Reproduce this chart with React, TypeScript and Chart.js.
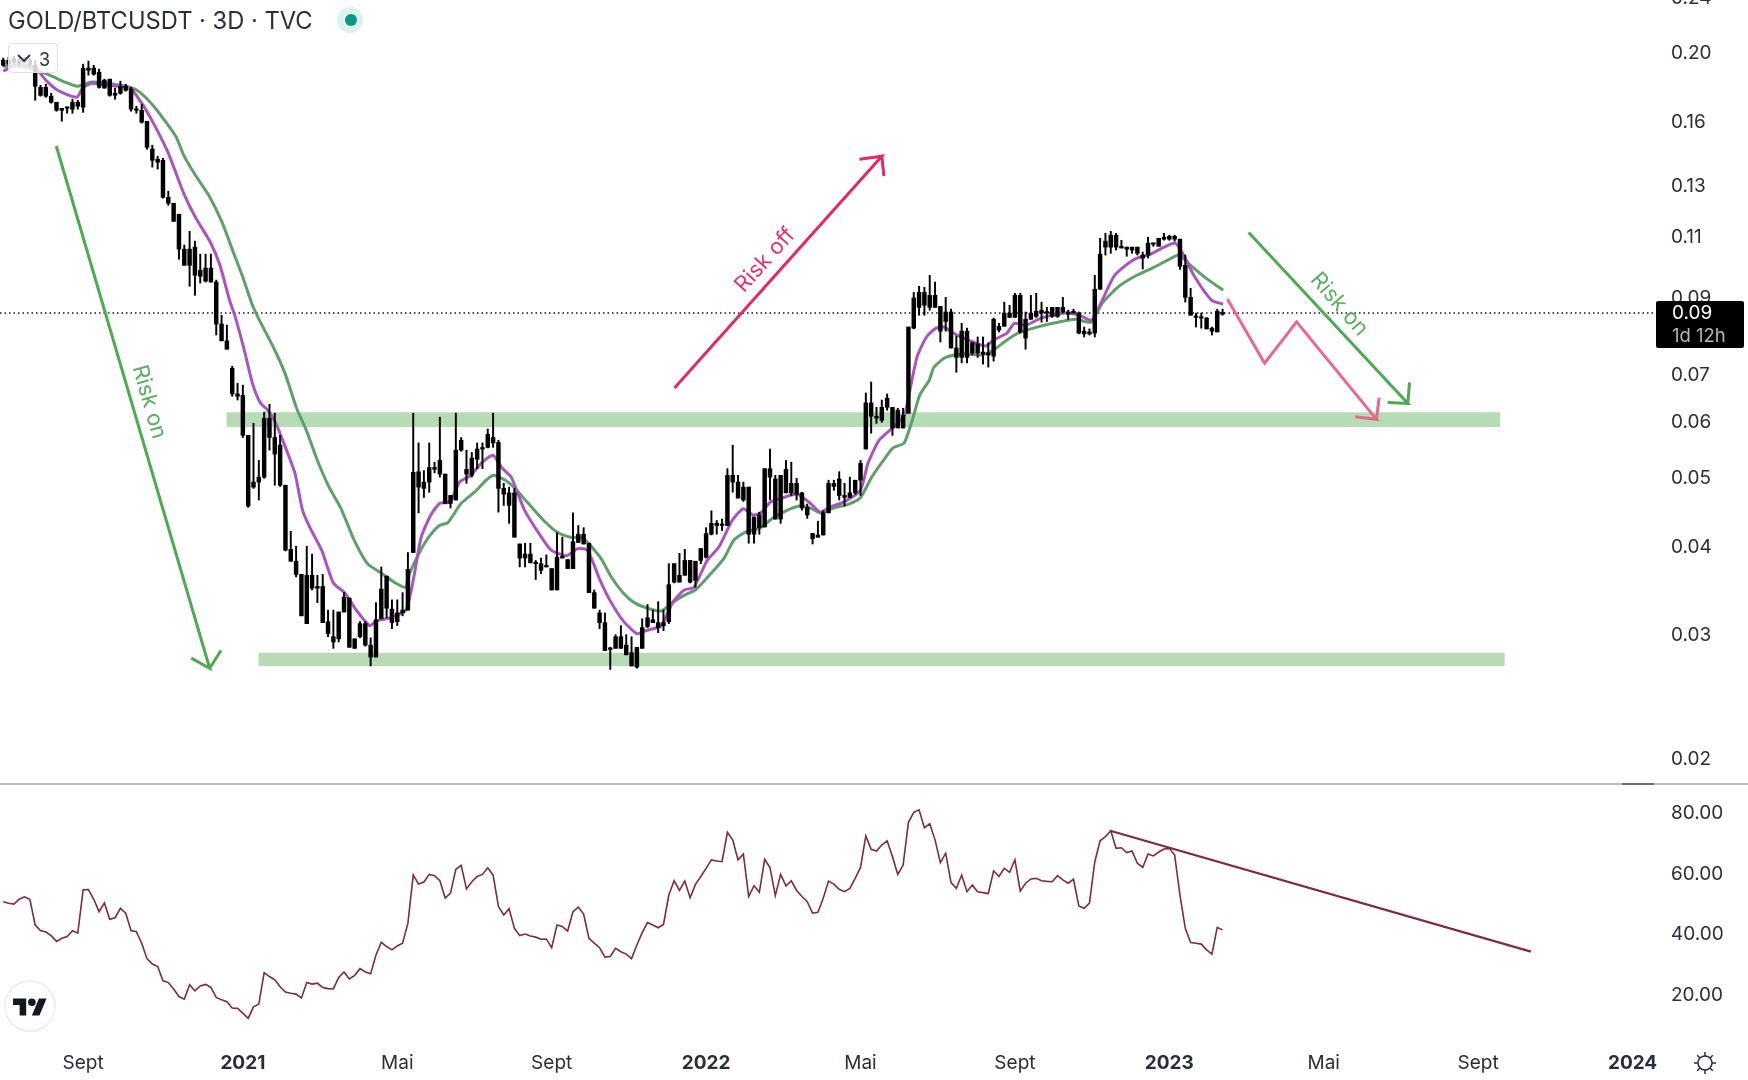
import React, { useEffect, useRef } from "react";
import { Chart, registerables } from "chart.js";

Chart.register(...registerables);

const FONT = "Inter, 'Noto Sans', sans-serif";

// candle values, one entry per 3D bar
const bodyTop = [
  .1949,.1949,.1962,.1949,.1955,.1949,.1917,.1784,.1784,.1733,
  .1699,.1666,.1672,.1699,.1699,.1899,.1899,.1899,.1874,.1826,
  .1832,.1750,.1790,.1790,.1773,.1661,.1655,.1597,.1458,.1411,
  .1406,.1246,.1222,.1179,.1052,.1052,.1059,.0982,.0989,.0989,
  .0945,.0824,.0780,.0713,.0656,.0653,.0573,.0492,.0500,.0606,
  .0606,.0569,.0555,.0487,.0395,.0380,.0364,.0363,.0363,.0350,
  .0350,.0312,.0297,.0322,.0338,.0337,.0295,.0310,.0310,.0289,
  .0314,.0347,.0362,.0325,.0321,.0324,.0370,.0508,.0509,.0492,
  .0516,.0516,.0528,.0505,.0471,.0546,.0564,.0513,.0532,.0548,
  .0550,.0575,.0569,.0560,.0482,.0475,.0475,.0402,.0389,.0389,
  .0378,.0377,.0374,.0371,.0385,.0385,.0382,.0405,.0415,.0415,
  .0403,.0343,.0321,.0311,.0286,.0297,.0297,.0289,.0282,.0287,
  .0306,.0316,.0314,.0311,.0311,.0352,.0377,.0363,.0381,.0381,
  .0380,.0396,.0416,.0430,.0430,.0428,.0503,.0503,.0492,.0484,
  .0484,.0439,.0442,.0514,.0514,.0497,.0503,.0513,.0490,.0490,
  .0475,.0453,.0416,.0414,.0445,.0490,.0490,.0497,.0471,.0475,
  .0495,.0523,.0637,.0637,.0610,.0628,.0647,.0628,.0622,.0612,
  .0816,.0897,.0914,.0914,.0905,.0905,.0873,.0857,.0857,.0762,
  .0805,.0805,.0775,.0772,.0752,.0750,.0837,.0818,.0854,.0854,
  .0905,.0905,.0837,.0854,.0859,.0862,.0857,.0870,.0870,.0870,
  .0857,.0859,.0854,.0805,.0803,.0923,.1035,.1080,.1101,.1101,
  .1062,.1059,.1059,.1059,.1032,.1073,.1073,.1090,.1094,.1097,
  .1097,.1087,.0998,.0899,.0845,.0842,.0840,.0813,.0859,.0854,
];
const bodyBottom = [
  .1917,.1924,.1936,.1930,.1936,.1924,.1790,.1738,.1733,.1699,
  .1655,.1655,.1666,.1661,.1677,.1672,.1886,.1862,.1784,.1779,
  .1738,.1738,.1750,.1767,.1661,.1655,.1592,.1467,.1406,.1397,
  .1246,.1222,.1152,.1052,.0998,.0998,.0966,.0963,.0948,.0945,
  .0824,.0780,.0759,.0656,.0651,.0573,.0455,.0484,.0492,.0500,
  .0569,.0539,.0487,.0394,.0380,.0364,.0318,.0310,.0348,.0348,
  .0311,.0300,.0292,.0295,.0322,.0287,.0286,.0297,.0289,.0278,
  .0278,.0315,.0326,.0311,.0312,.0321,.0324,.0391,.0484,.0482,
  .0492,.0513,.0505,.0459,.0459,.0464,.0546,.0505,.0503,.0530,
  .0548,.0551,.0559,.0482,.0473,.0456,.0411,.0384,.0384,.0378,
  .0377,.0369,.0373,.0346,.0346,.0384,.0371,.0371,.0404,.0402,
  .0343,.0326,.0311,.0284,.0285,.0286,.0286,.0280,.0270,.0269,
  .0286,.0307,.0311,.0306,.0308,.0312,.0355,.0355,.0363,.0355,
  .0357,.0381,.0385,.0415,.0427,.0427,.0427,.0492,.0467,.0464,
  .0415,.0415,.0424,.0425,.0500,.0436,.0436,.0475,.0475,.0473,
  .0452,.0442,.0409,.0411,.0414,.0445,.0485,.0471,.0468,.0468,
  .0475,.0495,.0548,.0610,.0606,.0602,.0628,.0587,.0587,.0587,
  .0616,.0813,.0870,.0876,.0870,.0870,.0805,.0831,.0762,.0739,
  .0739,.0739,.0750,.0750,.0747,.0745,.0742,.0808,.0818,.0842,
  .0842,.0803,.0787,.0837,.0845,.0854,.0854,.0845,.0845,.0857,
  .0851,.0854,.0800,.0798,.0798,.0800,.0923,.1059,.1059,.1059,
  .1056,.1052,.1049,.1038,.1022,.1032,.1069,.1062,.1087,.1087,
  .1087,.0995,.0899,.0848,.0842,.0840,.0811,.0805,.0803,.0851,
];
const wickHigh = [
  .1962,.1968,.1975,.1962,.1968,.1962,.1949,.1796,.1802,.1750,
  .1699,.1666,.1672,.1716,.1710,.1924,.1943,.1917,.1893,.1832,
  .1832,.1779,.1820,.1802,.1784,.1677,.1688,.1597,.1477,.1425,
  .1415,.1271,.1222,.1179,.1066,.1115,.1080,.1035,.1035,.1035,
  .0951,.0848,.0821,.0718,.0679,.0675,.0573,.0596,.0528,.0618,
  .0634,.0616,.0573,.0487,.0419,.0399,.0364,.0399,.0389,.0363,
  .0364,.0324,.0324,.0322,.0343,.0337,.0295,.0312,.0312,.0296,
  .0332,.0373,.0362,.0335,.0335,.0343,.0391,.0616,.0559,.0511,
  .0559,.0525,.0608,.0505,.0471,.0616,.0569,.0546,.0542,.0559,
  .0559,.0585,.0616,.0564,.0490,.0484,.0482,.0402,.0403,.0403,
  .0381,.0384,.0388,.0371,.0417,.0411,.0382,.0445,.0427,.0424,
  .0403,.0346,.0324,.0321,.0287,.0299,.0308,.0299,.0297,.0287,
  .0315,.0330,.0324,.0333,.0324,.0377,.0377,.0390,.0395,.0381,
  .0380,.0396,.0424,.0448,.0434,.0436,.0514,.0555,.0503,.0492,
  .0484,.0439,.0446,.0514,.0548,.0503,.0503,.0528,.0525,.0498,
  .0476,.0458,.0416,.0433,.0448,.0495,.0495,.0509,.0490,.0500,
  .0495,.0528,.0658,.0682,.0628,.0643,.0656,.0628,.0626,.0626,
  .0816,.0914,.0932,.0929,.0966,.0945,.0873,.0899,.0865,.0792,
  .0826,.0813,.0777,.0790,.0790,.0775,.0840,.0826,.0885,.0876,
  .0911,.0911,.0857,.0905,.0911,.0885,.0870,.0870,.0870,.0899,
  .0862,.0865,.0857,.0816,.0811,.0966,.1090,.1108,.1115,.1108,
  .1083,.1059,.1059,.1059,.1042,.1094,.1073,.1090,.1108,.1101,
  .1101,.1087,.1032,.0926,.0854,.0854,.0842,.0816,.0865,.0865,
];
const wickLow = [
  .1911,.1917,.1924,.1917,.1930,.1911,.1710,.1733,.1727,.1694,
  .1650,.1597,.1639,.1639,.1661,.1644,.1856,.1856,.1779,.1779,
  .1733,.1716,.1744,.1761,.1650,.1639,.1587,.1458,.1375,.1366,
  .1242,.1214,.1152,.1018,.0998,.0932,.0905,.0942,.0945,.0945,
  .0795,.0780,.0759,.0651,.0643,.0569,.0453,.0482,.0464,.0498,
  .0546,.0487,.0485,.0393,.0380,.0361,.0318,.0310,.0346,.0332,
  .0311,.0297,.0286,.0292,.0322,.0287,.0286,.0296,.0288,.0270,
  .0278,.0315,.0316,.0305,.0308,.0318,.0324,.0391,.0445,.0468,
  .0476,.0507,.0500,.0459,.0452,.0464,.0544,.0490,.0500,.0514,
  .0514,.0550,.0551,.0446,.0456,.0430,.0411,.0373,.0373,.0378,
  .0358,.0365,.0373,.0346,.0346,.0384,.0371,.0371,.0404,.0402,
  .0343,.0326,.0305,.0284,.0267,.0286,.0286,.0280,.0270,.0268,
  .0286,.0306,.0311,.0301,.0303,.0310,.0354,.0355,.0363,.0354,
  .0349,.0377,.0384,.0414,.0415,.0420,.0427,.0476,.0467,.0462,
  .0403,.0403,.0415,.0425,.0464,.0436,.0430,.0475,.0471,.0464,
  .0449,.0437,.0402,.0411,.0414,.0445,.0479,.0464,.0455,.0468,
  .0473,.0471,.0548,.0577,.0596,.0598,.0622,.0573,.0587,.0587,
  .0616,.0811,.0848,.0848,.0862,.0870,.0777,.0805,.0762,.0704,
  .0726,.0726,.0745,.0739,.0723,.0716,.0730,.0803,.0818,.0842,
  .0842,.0800,.0759,.0837,.0842,.0829,.0831,.0842,.0842,.0854,
  .0837,.0854,.0798,.0790,.0795,.0790,.0923,.1032,.1038,.1049,
  .1056,.1028,.1038,.1032,.0986,.1022,.1062,.1062,.1083,.1083,
  .1080,.0985,.0885,.0848,.0816,.0813,.0811,.0795,.0803,.0848,
];

// moving averages, read at the bends of the line
const emaFastBars = [
  0,2.3,5.9,8,10.2,13.8,14.9,16.6,19.5,23.8,26,28.2,31,33.9,36.1,38.9,40.7,42.5,43.6,45.4,
  46.8,48.3,49.7,51.2,53,54.8,56.2,57.6,59.8,62,64.1,66.3,68.8,70.2,72.7,75.6,76.9,78.5,80.3,82,
  83.9,85.7,87.8,90,92,93.6,95.4,97.9,100.8,102.9,105.8,107.9,109.7,112.1,113.9,116.4,119,120.7,123.6,125.7,
  127.9,129.7,132.2,134.4,136.9,139,140.8,142.3,144.1,146.6,149.1,151.6,153.4,155.2,158.1,161,162.4,164.5,167.1,168.9,
  169.4,171.6,173.4,175.2,176.6,179.1,181.3,184.5,186,188.5,189.9,192.1,194.9,199.3,202.1,204.4,206.4,208.6,210.8,212.9,
  215.1,218,220.1,221.5,223.7,226.9,229.1,
];
const emaFastValues = [
  .1880,.1917,.1905,.1826,.1767,.1727,.1779,.1808,.1796,.1779,.1694,.1587,.1439,.1262,.1167,.1076,.0998,.0891,.0842,.0750,
  .0679,.0637,.0622,.0596,.0551,.0506,.0449,.0424,.0394,.0354,.0343,.0324,.0308,.0313,.0316,.0324,.0354,.0411,.0442,.0459,
  .0461,.0492,.0503,.0525,.0537,.0516,.0500,.0449,.0414,.0394,.0387,.0396,.0394,.0357,.0335,.0313,.0300,.0303,.0308,.0332,
  .0346,.0349,.0381,.0398,.0434,.0451,.0442,.0445,.0461,.0468,.0473,.0459,.0446,.0453,.0462,.0479,.0523,.0564,.0588,.0606,
  .0616,.0739,.0790,.0813,.0816,.0795,.0782,.0767,.0782,.0800,.0826,.0821,.0840,.0854,.0848,.0834,.0891,.0963,.0998,.1022,
  .1032,.1059,.1073,.1038,.0963,.0891,.0879,
];
const emaSlowBars = [
  0,3,5,8.7,11.6,13.8,14.8,16.3,19.5,23.8,25.6,28.1,30.3,32.5,33.9,36.1,38.6,41.1,43.2,45,
  46.8,48.3,50.8,52.9,55.1,56.9,59,61.2,63.4,65.9,68.4,70.9,73.4,75.5,76.3,78.1,79.9,81.9,83.5,86,
  88.5,90.7,92.1,94.3,96.1,98.6,101.5,104,106.5,109,112.1,114.2,116.4,118.5,121,123.6,125.7,128.2,130,132.9,
  135.4,137.2,139.4,142.3,144.4,147.3,149.5,151.6,153.4,155.9,158.8,161,163.1,165.3,167.1,169.2,171,172.1,173.9,174.8,
  177,180.6,183.8,186,188.5,190.6,193.5,197.1,201.4,204.3,206.4,209.3,212.2,215.8,218.7,220.8,223,225.9,229.1,
];
const emaSlowValues = [
  .1911,.1911,.1899,.1856,.1814,.1790,.1796,.1814,.1808,.1784,.1756,.1683,.1602,.1516,.1429,.1339,.1254,.1148,.1042,.0960,
  .0876,.0829,.0762,.0702,.0626,.0583,.0528,.0484,.0452,.0407,.0377,.0366,.0355,.0349,.0365,.0390,.0411,.0427,.0431,.0459,
  .0476,.0495,.0503,.0495,.0482,.0459,.0434,.0418,.0411,.0409,.0385,.0361,.0343,.0332,.0326,.0323,.0332,.0341,.0346,.0365,
  .0384,.0407,.0418,.0424,.0437,.0449,.0455,.0452,.0445,.0452,.0458,.0468,.0500,.0528,.0550,.0559,.0612,.0653,.0686,.0716,
  .0739,.0747,.0745,.0757,.0782,.0800,.0813,.0826,.0837,.0829,.0882,.0929,.0960,.0989,.1015,.1032,.0998,.0957,.0920,
];

// RSI, one value per bar
const rsiValues = [
  50.3,49.8,49.5,51.1,51.9,51.1,42.6,40.8,40.3,39.1,37.2,38.2,38.8,40.7,39.9,54.2,54.3,51.1,47.0,49.9,
  44.5,45.0,48.1,46.5,40.8,40.4,36.6,31.5,29.7,28.9,24.2,23.6,21.5,19.0,18.1,22.9,20.9,22.5,23.0,22.0,
  18.7,17.9,17.3,15.2,15.1,13.5,11.8,15.6,16.5,26.9,25.6,24.5,22.2,20.5,20.1,19.8,18.5,23.6,23.1,23.4,
  22.0,21.6,21.5,25.3,27.1,24.8,26.0,28.2,27.1,26.5,32.7,36.9,35.5,34.4,35.7,36.6,43.2,59.1,56.1,56.8,
  59.3,58.9,57.2,51.5,53.1,61.0,62.3,54.5,56.9,58.6,59.3,61.5,59.1,48.7,45.9,48.0,41.5,39.1,39.6,39.0,
  38.6,37.9,38.0,35.1,42.6,42.1,40.6,47.0,48.5,46.2,38.2,36.6,35.1,32.0,32.2,34.9,33.8,33.0,31.5,36.0,
  40.1,43.4,42.6,41.7,42.8,52.5,57.2,54.0,57.1,51.6,56.0,58.6,61.3,64.1,63.7,63.5,73.2,70.7,64.1,66.0,
  52.0,55.6,53.4,64.3,61.6,52.3,59.3,55.5,57.2,54.0,52.0,50.3,46.5,46.8,51.4,57.1,56.1,54.4,53.6,54.7,
  58.0,61.6,72.0,67.6,67.0,69.0,70.4,65.2,59.3,62.4,76.5,79.8,80.6,74.7,76.0,70.7,63.2,66.3,56.6,54.7,
  59.1,53.6,55.8,53.6,53.3,53.0,60.5,58.6,61.3,60.0,64.1,53.8,56.4,57.8,58.0,57.2,57.0,56.9,58.9,57.5,
  56.4,57.7,48.9,48.1,49.8,63.5,70.4,71.8,73.7,67.9,68.1,66.5,67.0,63.0,61.6,66.0,65.4,66.7,67.7,67.9,
  65.7,52.5,41.5,36.8,36.6,36.3,34.4,33.0,41.8,41.0,
];
const rsiTrendBars = [207.9, 286.9];
const rsiTrendValues = [73.7, 33.8];

// axes
const priceTicks = [0.02, 0.03, 0.04, 0.05, 0.06, 0.07, 0.09, 0.11, 0.13, 0.16, 0.2, 0.24];
const rsiTicks = [20, 40, 60, 80];
const timeTickBars = [15, 45, 74, 103, 132, 161, 190, 219, 248, 277, 306];
const timeTickLabels = ["Sept", "2021", "Mai", "Sept", "2022", "Mai", "Sept", "2023", "Mai", "Sept", "2024"];

// drawings on the chart, in bars and price
const supportZoneBars = [47.9, 282];
const supportZoneTop = [0.0282, 0.0282];
const supportZoneBottom = [0.027, 0.027];
const resistZoneBars = [41.9, 281.1];
const resistZoneTop = [0.0618, 0.0618];
const resistZoneBottom = [0.0589, 0.0589];

const lastPriceBars = [-0.61, 310.4];
const lastPriceValues = [0.0854, 0.0854];

const leftArrowBars = [9.96, 38.77, 35.3, 38.77, 40.9];
const leftArrowValues = [0.1473, 0.0268, 0.0277, 0.0268, 0.0284];
const riskOffBars = [126.06, 165, 160.8, 165, 165.4];
const riskOffValues = [0.0669, 0.1425, 0.1411, 0.1425, 0.1335];
const rightArrowBars = [233.9, 263.8, 260, 263.8, 264.1];
const rightArrowValues = [0.1111, 0.0636, 0.0638, 0.0636, 0.0681];
const zigzagBars = [229.9, 236.9, 242.9, 257.9, 253.9, 257.9, 258.4];
const zigzagValues = [0.0894, 0.0725, 0.083, 0.0604, 0.0609, 0.0604, 0.0648];

const noteTexts = ["Risk on", "Risk off", "Risk on"];
const noteBars = [27.4, 143.1, 250.9];
const noteValues = [0.0639, 0.1015, 0.0879];
const noteAngles = [74, -48, 49];
const noteColors = ["#5cae62", "#e5326f", "#5cae62"];

const toPoints = (xs: number[], ys: number[]) => xs.map((x, i) => ({ x, y: ys[i] }));

function lineSet(xs: number[], ys: number[], color: string, width: number, order: number, extra: any = {}) {
  return {
    type: "line",
    data: toPoints(xs, ys),
    borderColor: color,
    borderWidth: width,
    pointRadius: 0,
    tension: 0,
    order,
    yAxisID: "y",
    ...extra,
  };
}

const notesPlugin = {
  id: "notes",
  afterDatasetsDraw(chart: any) {
    const { ctx, scales } = chart;
    noteTexts.forEach((text, i) => {
      ctx.save();
      ctx.translate(scales.x.getPixelForValue(noteBars[i]), scales.y.getPixelForValue(noteValues[i]));
      ctx.rotate((noteAngles[i] * Math.PI) / 180);
      ctx.font = `400 22px ${FONT}`;
      ctx.fillStyle = noteColors[i];
      ctx.textAlign = "center";
      ctx.textBaseline = "middle";
      ctx.fillText(text, 0, 0);
      ctx.restore();
    });
  },
};

// the tick labels must not push the panes inwards
function noPadding(scale: any) {
  scale.paddingTop = 0;
  scale.paddingBottom = 0;
  scale.paddingLeft = 0;
  scale.paddingRight = 0;
}

export default function App() {
  const canvasRef = useRef<HTMLCanvasElement>(null);

  useEffect(() => {
    document.body.style.margin = "0";
    const canvas = canvasRef.current;
    if (!canvas) return;

    const bars = bodyTop.map((_, i) => i);
    const chart = new Chart(canvas, {
      type: "bar",
      data: {
        datasets: [
          lineSet(supportZoneBars, supportZoneTop, "transparent", 0, 20, { fill: "+1", backgroundColor: "#b7dcb5" }),
          lineSet(supportZoneBars, supportZoneBottom, "transparent", 0, 20),
          lineSet(resistZoneBars, resistZoneTop, "transparent", 0, 20, { fill: "+1", backgroundColor: "#b7dcb5" }),
          lineSet(resistZoneBars, resistZoneBottom, "transparent", 0, 20),
          lineSet(lastPriceBars, lastPriceValues, "#131722", 1.5, 15, { borderDash: [1.5, 3] }),
          lineSet(emaSlowBars, emaSlowValues, "#5fa06a", 3, 12, { tension: 0.2 }),
          lineSet(emaFastBars, emaFastValues, "#a855bd", 3, 11, { tension: 0.2 }),
          {
            type: "bar",
            data: bars.map((x) => ({ x, y: [wickLow[x], wickHigh[x]] })),
            backgroundColor: "#000000",
            barThickness: 1.3,
            grouped: false,
            order: 6,
            yAxisID: "y",
          },
          {
            type: "bar",
            data: bars.map((x) => ({ x, y: [bodyBottom[x], bodyTop[x]] })),
            backgroundColor: "#000000",
            barThickness: 3.8,
            minBarLength: 1.5,
            grouped: false,
            order: 5,
            yAxisID: "y",
          },
          lineSet(leftArrowBars, leftArrowValues, "#4fa955", 3, 2),
          lineSet(rightArrowBars, rightArrowValues, "#4fa955", 3, 2),
          lineSet(riskOffBars, riskOffValues, "#e5266a", 3, 2),
          lineSet(zigzagBars, zigzagValues, "#e8688f", 3, 2),
          lineSet(bars, rsiValues, "#7d2c3c", 1.6, 3, { yAxisID: "rsi" }),
          lineSet(rsiTrendBars, rsiTrendValues, "#7d2c3c", 2.2, 3, { yAxisID: "rsi" }),
        ] as any,
      },
      options: {
        animation: false,
        responsive: false,
        devicePixelRatio: 1,
        layout: { padding: 0 },
        plugins: { legend: { display: false }, tooltip: { enabled: false } },
        scales: {
          x: {
            type: "linear",
            min: -0.61,
            max: 310.4,
            offset: false,
            grid: { display: false, offset: false, drawTicks: false },
            border: { display: false },
            afterBuildTicks: (scale: any) => {
              scale.ticks = timeTickBars.map((value) => ({ value }));
            },
            afterFit: (scale: any) => {
              scale.height = 40;
              noPadding(scale);
            },
            ticks: {
              autoSkip: false,
              maxRotation: 0,
              padding: 12,
              color: "#2a2e39",
              font: (ctx: any) => ({
                family: FONT,
                size: 19,
                weight: /^\d/.test(timeTickLabels[ctx.index] || "") ? "700" : "400",
              }),
              callback: (_v: any, i: number) => timeTickLabels[i],
            },
          },
          y: {
            type: "logarithmic",
            position: "right",
            stack: "panes",
            stackWeight: 784,
            min: 0.01837,
            max: 0.2372,
            grid: { display: false, drawTicks: false },
            border: { display: false },
            afterBuildTicks: (scale: any) => {
              scale.ticks = priceTicks.map((value) => ({ value }));
            },
            afterFit: (scale: any) => {
              scale.width = 92;
              noPadding(scale);
            },
            ticks: {
              autoSkip: false,
              padding: 15,
              labelOffset: 1.5,
              color: "#2a2e39",
              font: { family: FONT, size: 19 },
              callback: (v: any) => Number(v).toFixed(2),
            },
          },
          rsi: {
            type: "linear",
            position: "right",
            stack: "panes",
            stackWeight: 256,
            min: 4.65,
            max: 89.14,
            grid: { display: false, drawTicks: false },
            border: { display: false },
            afterBuildTicks: (scale: any) => {
              scale.ticks = rsiTicks.map((value) => ({ value }));
            },
            afterFit: (scale: any) => {
              scale.width = 92;
              noPadding(scale);
            },
            ticks: {
              autoSkip: false,
              padding: 15,
              labelOffset: 1.5,
              color: "#2a2e39",
              font: { family: FONT, size: 19 },
              callback: (v: any) => Number(v).toFixed(2),
            },
          },
        },
      } as any,
      plugins: [notesPlugin],
    });

    return () => chart.destroy();
  }, []);

  const text: React.CSSProperties = { position: "absolute", fontFamily: FONT, color: "#2a2e39", whiteSpace: "nowrap" };

  return (
    <div style={{ position: "absolute", left: 0, top: 0, width: 1748, height: 1080, overflow: "hidden", background: "#fff" }}>
      <canvas ref={canvasRef} width={1748} height={1080} style={{ display: "block" }} />

      {/* pane separator */}
      <div style={{ position: "absolute", left: 0, top: 783, width: 1748, height: 2, background: "#b8bbc2" }} />
      <div style={{ position: "absolute", left: 1622, top: 783, width: 32, height: 2, background: "#6a6d78" }} />

      {/* header */}
      <div style={{ ...text, left: 8, top: 7, fontSize: 23.7, lineHeight: "28px" }}>GOLD/BTCUSDT · 3D · TVC</div>
      <div style={{ position: "absolute", left: 337, top: 7, width: 26, height: 26, borderRadius: 13, background: "#dff1ee" }} />
      <div style={{ position: "absolute", left: 344.5, top: 14, width: 12, height: 12, borderRadius: 6, background: "#089981" }} />

      {/* collapse button */}
      <div
        style={{
          position: "absolute",
          left: 8,
          top: 43,
          width: 50,
          height: 30,
          boxSizing: "border-box",
          border: "1px solid #dfe1e6",
          borderRadius: 4,
          background: "rgba(255,255,255,0.82)",
        }}
      />
      <svg style={{ position: "absolute", left: 17, top: 54 }} width={14} height={9} viewBox="0 0 14 9">
        <path d="M1 1l6 6 6-6" fill="none" stroke="#2a2e39" strokeWidth={1.8} />
      </svg>
      <div style={{ ...text, left: 39, top: 49, fontSize: 18, lineHeight: "22px" }}>3</div>

      {/* last price tag */}
      <div style={{ position: "absolute", left: 1656, top: 301, width: 88, height: 47, borderRadius: 2, background: "#000" }} />
      <div style={{ ...text, left: 1672, top: 302, fontSize: 19, lineHeight: "22px", color: "#fff" }}>0.09</div>
      <div style={{ ...text, left: 1672, top: 324, fontSize: 18.5, lineHeight: "22px", color: "#b6b6b6" }}>1d 12h</div>

      {/* logo */}
      <div
        style={{
          position: "absolute",
          left: 4,
          top: 980,
          width: 52,
          height: 52,
          boxSizing: "border-box",
          borderRadius: 26,
          border: "2px solid #eeeff1",
          background: "#fff",
        }}
      />
      <svg style={{ position: "absolute", left: 13, top: 998 }} width={34} height={18} viewBox="0 4 36 18">
        <path d="M14 22H7V11H0V4h14v18zM28 22h-8l7.5-18h8L28 22z" fill="#131722" />
        <circle cx={20} cy={8} r={4} fill="#131722" />
      </svg>

      {/* theme icon */}
      <svg style={{ position: "absolute", left: 1692, top: 1050 }} width={26} height={26} viewBox="0 0 26 26">
        <circle cx={13} cy={13} r={7} fill="none" stroke="#2a2e39" strokeWidth={1.5} />
        <path
          d="M13 2v4M13 20v4M2 13h4M20 13h4M5.2 5.2l2.8 2.8M18 18l2.8 2.8M5.2 20.8L8 18M18 8l2.8-2.8"
          stroke="#2a2e39"
          strokeWidth={1.5}
        />
      </svg>
    </div>
  );
}
